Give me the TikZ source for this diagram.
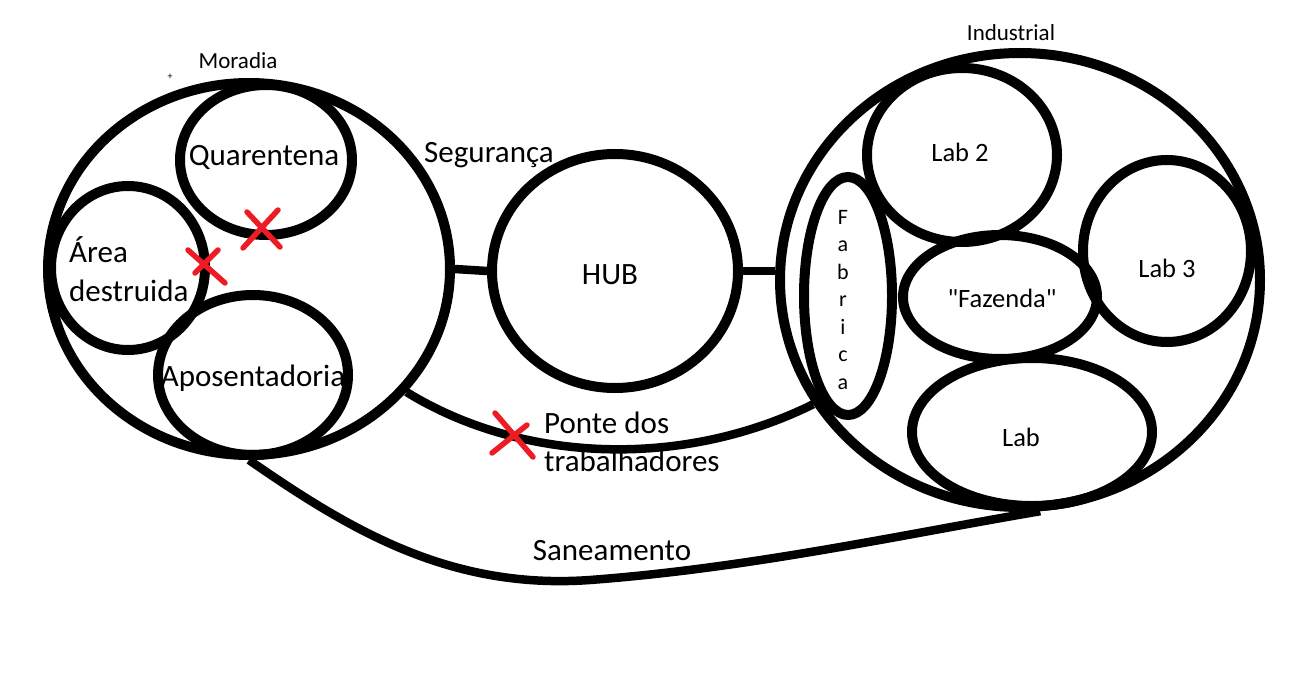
\documentclass[tikz,border=0pt]{standalone}
\usepackage{fontspec}
\setmainfont{Carlito}
\usetikzlibrary{shapes.geometric}
\definecolor{xred}{HTML}{ED1C24}
\tikzset{
  region/.style={draw=black, line width=10pt, ellipse, inner sep=0pt},
  link/.style={draw=black, line width=8.5pt},
  lbl/.style={inner sep=0pt, font=\fontsize{31}{38.5}\selectfont},
  labtxt/.style={inner sep=0pt, font=\fontsize{26.5}{32}\selectfont},
  small/.style={inner sep=0pt, font=\fontsize{23}{27}\selectfont},
  cross/.style={draw=xred, line width=5.5pt, line cap=round}
}
\begin{document}
\begin{tikzpicture}[x=1pt,y=-1pt]
\useasboundingbox[fill=white] (0,0) rectangle (1306,690);

% Moradia
\node[region, minimum width=402pt, minimum height=372pt] (moradia) at (249,269) {};
\node[region, minimum width=172pt, minimum height=150pt] (quar) at (266,160) {};
\node[region, minimum width=154pt, minimum height=164pt] (area) at (128,268) {};
\node[region, minimum width=190pt, minimum height=160pt] (apos) at (253,375) {};

% HUB
\node[region, minimum width=246pt, minimum height=234pt] (hub) at (615,271) {};

% Industrial
\node[region, minimum width=480pt, minimum height=454pt] (ind) at (1020,280) {};
\node[region, minimum width=190pt, minimum height=174pt] (lab2) at (962,155) {};
\node[region, minimum width=88pt, minimum height=238pt] (fab) at (848,296) {};
\node[region, minimum width=194pt, minimum height=124pt] (faz) at (1000,297) {};
\node[region, minimum width=168pt, minimum height=182pt] (lab3) at (1167,251) {};
\node[region, minimum width=240pt, minimum height=148pt] (lab) at (1032,432) {};

% connectors
\draw[link] (moradia.east) -- (hub.west);
\draw[link] (hub.east) -- (ind.west |- hub.east);
\draw[link] (moradia.-38.8) .. controls (520,462) and (680,470) .. (ind.211.6);
\draw[link] (moradia.south) .. controls (350,530) and (450,590) .. (590,580)
  .. controls (750,568) and (900,535) .. (ind.-85);

% labels
\node[small] (lmor) at (238,61) {Moradia};
\node[inner sep=0pt, font=\fontsize{10}{10}\selectfont] (plus) at (170,77) {+};
\node[small] (lind) at (1011,33) {Industrial};
\node[lbl] (tquar) at (264,157) {Quarentena};
\node[lbl, align=left, anchor=west] (tarea) at (69,269) {Área\\destruida};
\node[lbl] (tapos) at (253,378) {Aposentadoria};
\node[lbl] (tseg) at (489,155) {Segurança};
\node[lbl] (thub) at (610,275) {HUB};
\node[lbl, align=left, anchor=west] (tponte) at (544,442) {Ponte dos\\trabalhadores};
\node[lbl] (tsan) at (612,551) {Saneamento};
\node[labtxt] (tlab2) at (960,152) {Lab 2};
\node[labtxt] (tlab3) at (1167,268) {Lab 3};
\node[labtxt] (tfaz) at (1002,298) {\textquotedbl Fazenda\textquotedbl};
\node[labtxt] (tlab) at (1021,437) {Lab};
\node[inner sep=0pt, align=center, font=\fontsize{22}{27.5}\selectfont] (tfab) at (843,300) {F\\a\\b\\r\\i\\c\\a};

% red crosses
\draw[cross] (243,248) -- (278,210);
\draw[cross] (247,212) -- (280,247);
\draw[cross] (188,250) -- (225,283);
\draw[cross] (195,273) -- (218,250);
\draw[cross] (495,413) -- (533,457);
\draw[cross] (492,453) -- (527,425);
\end{tikzpicture}
\end{document}
